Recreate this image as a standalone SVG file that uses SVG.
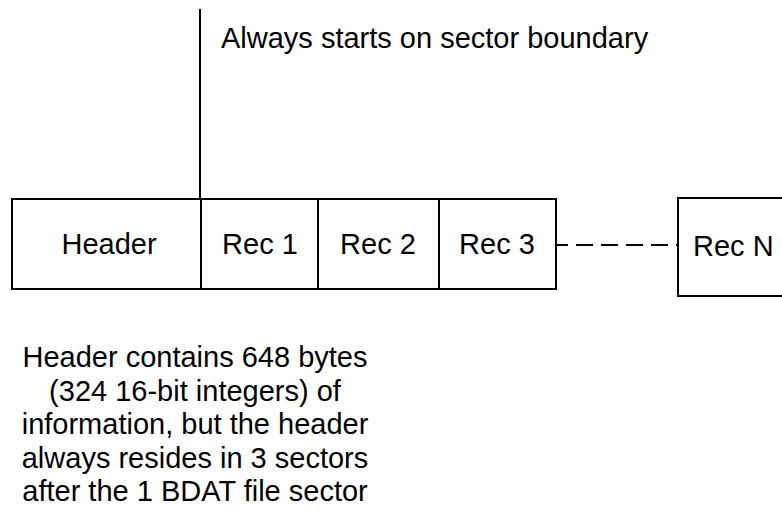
<svg xmlns="http://www.w3.org/2000/svg" width="782" height="510" viewBox="0 0 782 510">
<style>
text{font-family:"Liberation Sans",Arial,Helvetica,sans-serif;font-size:29px;fill:#000}
.box{fill:#fff;stroke:#000;stroke-width:2}
.ln{stroke:#000;stroke-width:2;fill:none}
.c{text-anchor:middle}
</style>
<rect width="782" height="510" fill="#fff"/>
<g id="connectors">
<line class="ln" x1="200" y1="9" x2="200" y2="199"/>
<line class="ln" x1="556" y1="245" x2="678" y2="245" stroke-dasharray="17 8" stroke-dashoffset="5"/>
</g>
<g id="header"><rect class="box" x="12" y="199" width="189" height="90"/><text class="c" x="109" y="254">Header</text></g>
<g id="rec1"><rect class="box" x="201" y="199" width="117" height="90"/><text class="c" x="260" y="254">Rec 1</text></g>
<g id="rec2"><rect class="box" x="318" y="199" width="121" height="90"/><text class="c" x="378" y="254">Rec 2</text></g>
<g id="rec3"><rect class="box" x="439" y="199" width="117" height="90"/><text class="c" x="497" y="254">Rec 3</text></g>
<g id="recN"><rect class="box" x="678" y="198" width="130" height="98"/><text x="693" y="256">Rec N</text></g>
<g id="boundary-label"><text x="221" y="48">Always starts on sector boundary</text></g>
<g id="header-note">
<text class="c" x="195" y="367">Header contains 648 bytes</text>
<text class="c" x="195" y="400.5">(324 16-bit integers) of</text>
<text class="c" x="195" y="434">information, but the header</text>
<text class="c" x="195" y="467.5">always resides in 3 sectors</text>
<text class="c" x="195" y="501">after the 1 BDAT file sector</text>
</g>
</svg>
